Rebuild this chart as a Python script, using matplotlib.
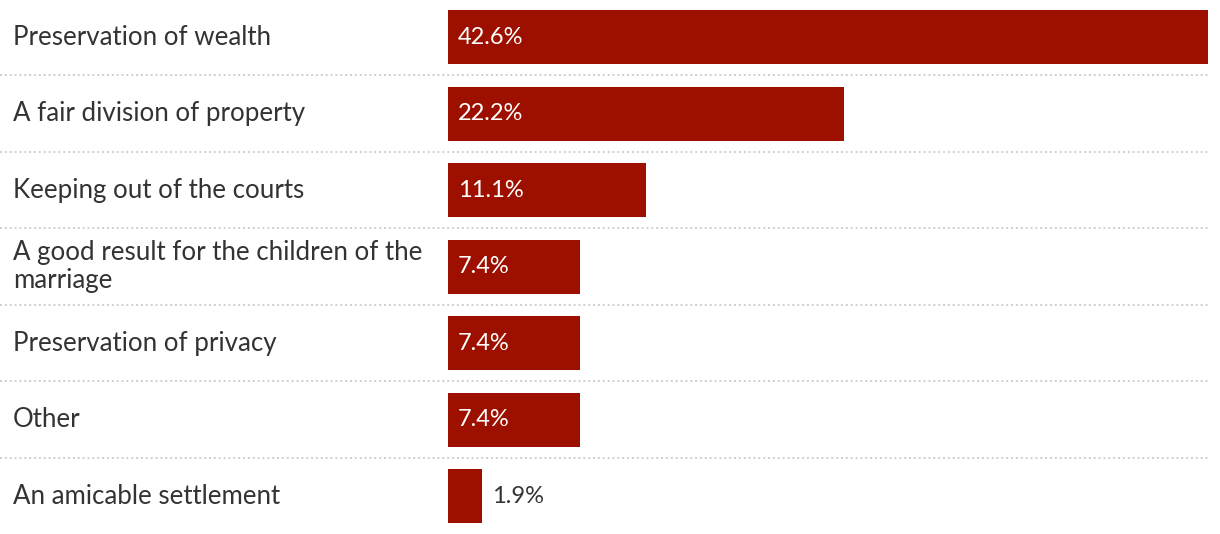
import matplotlib.pyplot as plt
from matplotlib.transforms import offset_copy

categories = [
    'Preservation of wealth',
    'A fair division of property',
    'Keeping out of the courts',
    'A good result for the children of the\nmarriage',
    'Preservation of privacy',
    'Other',
    'An amicable settlement',
]
values = [42.6, 22.2, 11.1, 7.4, 7.4, 7.4, 1.9]

BAR = '#9d1000'
TEXT = '#333333'
W, H = 1220, 534

plt.rcParams['font.family'] = ['Lato', 'DejaVu Sans']

fig = plt.figure(figsize=(W / 100, H / 100), dpi=100)
# bar area: 448px .. 1208px wide, full height
ax = fig.add_axes([448 / W, 0, 760 / W, 1])

pitch = 76.5
top = 37
ax.set_ylim((H - top) / pitch, -top / pitch)
ax.set_xlim(0, max(values))
ax.axis('off')

ys = list(range(len(values)))
ax.barh(ys, values, height=54 / pitch, color=BAR, left=0)

# dotted separators between rows
trans = ax.get_yaxis_transform()
for y in ys[:-1]:
    ax.plot([-448 / 760, 1.0], [y + 0.5, y + 0.5], transform=trans,
            color='#cfcfcf', linestyle=(0, (1, 1.5)), linewidth=1.4, clip_on=False)

for y, cat, v in zip(ys, categories, values):
    ax.text(-435 / 760, y, cat, transform=trans, ha='left', va='center',
            fontsize=18.6, color=TEXT, linespacing=1.15)
    t = offset_copy(ax.transData, fig=fig, x=10, y=0, units='dots')
    if v > 5:
        ax.text(0, y, f'{v}%', transform=t, ha='left', va='center',
                fontsize=17, color='white')
    else:
        ax.text(v, y, f'{v}%', transform=t, ha='left', va='center',
                fontsize=17, color=TEXT)

fig.savefig('out.png', dpi=100)
